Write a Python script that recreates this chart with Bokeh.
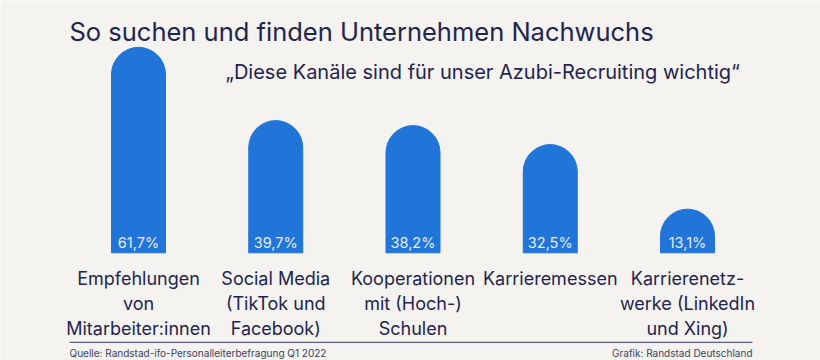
import math
from bokeh.plotting import figure
from bokeh.models import Range1d, Label, BoxAnnotation, ColumnDataSource
from bokeh.core.properties import value
from bokeh.embed import file_html
from bokeh.resources import INLINE

# ---- data ----
categories = [
    "Empfehlungen\nvon\nMitarbeiter:innen",
    "Social Media\n(TikTok und\nFacebook)",
    "Kooperationen\nmit (Hoch-)\nSchulen",
    "Karrieremessen",
    "Karrierenetz-\nwerke (LinkedIn\nund Xing)",
]
values = [61.7, 39.7, 38.2, 32.5, 13.1]
value_labels = ["61,7%", "39,7%", "38,2%", "32,5%", "13,1%"]
title_text = "So suchen und finden Unternehmen Nachwuchs"
subtitle_text = "\u201eDiese Kan\u00e4le sind f\u00fcr unser Azubi-Recruiting wichtig\u201c"
source_text = "Quelle: Randstad-ifo-Personalleiterbefragung Q1 2022"
credit_text = "Grafik: Randstad Deutschland"

# ---- style / layout ----
BG = "#f4f3ef"
BLUE = "#2175d9"
NAVY = "#1f2451"
FONT = "Inter"
W, H = 820, 360
PX_X = 137.25      # px per category step
X0 = 138           # px of first bar centre
PX_Y = 3.33        # px per percentage point
Y0 = 107.7         # px from bottom to bar base
BAR_W = 54
R = BAR_W / 2
SH = 0.3           # baseline correction (em)

x_start = -X0 / PX_X
x_end = x_start + W / PX_X
y_start = -Y0 / PX_Y
y_end = y_start + H / PX_Y

p = figure(width=W, height=H, output_backend="svg", toolbar_location=None,
           x_range=Range1d(x_start, x_end), y_range=Range1d(y_start, y_end),
           x_axis_location=None, y_axis_location=None, min_border=0,
           background_fill_color=BG, border_fill_color=BG, outline_line_color=None)
p.grid.visible = False

xs = list(range(len(values)))
r_y = R / PX_Y
centres = [v - r_y for v in values]

p.vbar(x=xs, width=BAR_W / PX_X, bottom=0, top=centres,
       fill_color=BLUE, line_color=BLUE, line_width=1)
p.wedge(x=xs, y=centres, radius=R, radius_units="screen",
        start_angle=0, end_angle=math.pi,
        fill_color=BLUE, line_color=BLUE, line_width=1)

p.text(x=xs, y=[0] * len(xs), text=value_labels, text_align="center",
       text_baseline="alphabetic", y_offset=-6 - SH * 14.5,
       text_font=value(FONT), text_font_size="14.5px", text_color="#e4ecf8")

lx, lt, loff = [], [], []
for i, c in enumerate(categories):
    for j, line in enumerate(c.split("\n")):
        lx.append(i)
        lt.append(line)
        loff.append(31 + 25 * j - SH * 18)
src = ColumnDataSource(dict(x=lx, y=[0] * len(lx), text=lt, off=loff))
p.text(x="x", y="y", text="text", y_offset="off", source=src,
       text_align="center", text_baseline="alphabetic",
       text_font=value(FONT), text_font_size="18px", text_color=NAVY)

p.add_layout(Label(x=69, y=H - 39 + SH * 25.5, x_units="screen", y_units="screen",
                   text=title_text, text_font=FONT, text_font_size="25.5px",
                   text_color=NAVY, text_baseline="alphabetic"))
p.add_layout(Label(x=225, y=H - 77 + SH * 20, x_units="screen", y_units="screen",
                   text=subtitle_text, text_font=FONT, text_font_size="20px",
                   text_color=NAVY, text_baseline="alphabetic"))

p.add_layout(BoxAnnotation(left=69, right=752, bottom=H - 342.5, top=H - 341.3,
                           left_units="screen", right_units="screen",
                           bottom_units="screen", top_units="screen",
                           fill_color="#5b6088", fill_alpha=1, line_color=None))
p.add_layout(Label(x=69, y=H - 355 + SH * 10, x_units="screen", y_units="screen",
                   text=source_text, text_font=FONT, text_font_size="10px",
                   text_color="#3d4163", text_baseline="alphabetic"))
p.add_layout(Label(x=752, y=H - 355 + SH * 10, x_units="screen", y_units="screen",
                   text=credit_text, text_font=FONT, text_font_size="10px",
                   text_color="#3d4163", text_baseline="alphabetic",
                   text_align="right"))

html = file_html(p, INLINE)
open("out.html", "w").write(html)
